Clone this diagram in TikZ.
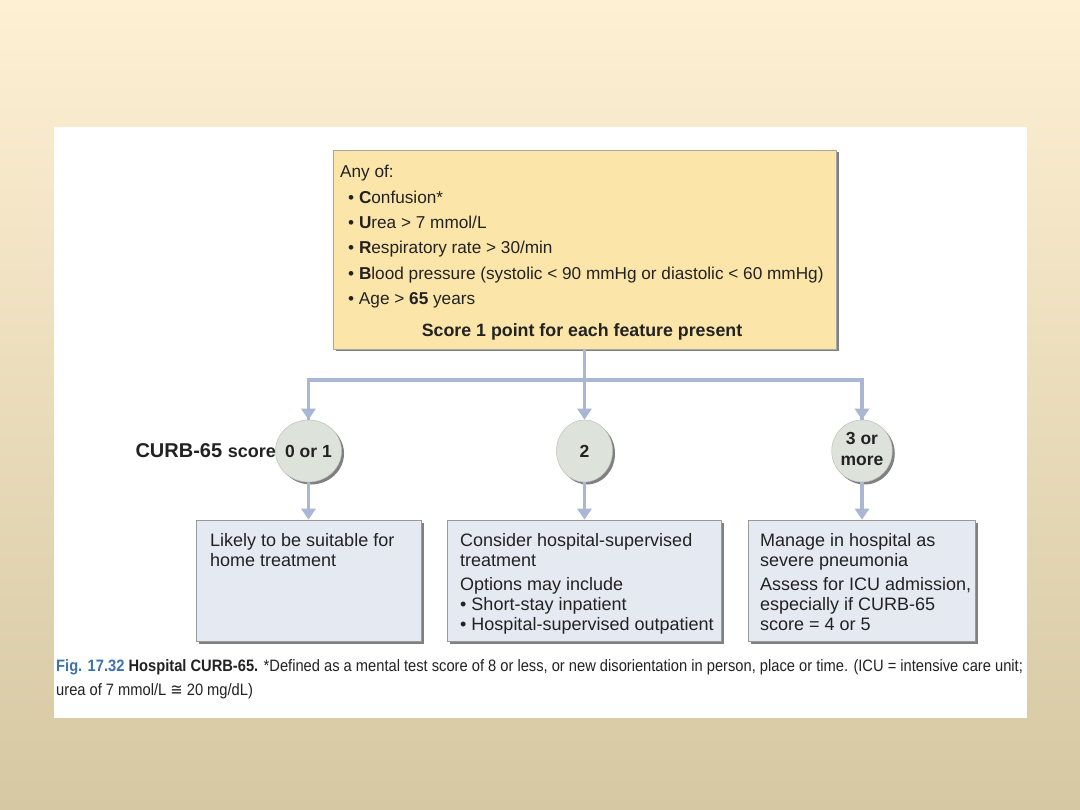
\documentclass[tikz,border=0pt]{standalone}
\usepackage{fontspec}
\setmainfont{Liberation Sans}
\newfontfamily\capfont[FakeStretch=0.89]{Liberation Sans}
\newfontfamily\symfont[FakeStretch=0.89]{DejaVu Sans}
\usetikzlibrary{arrows.meta,shapes.geometric,shadows}
\definecolor{bgtop}{HTML}{FEF0D3}
\definecolor{bgbot}{HTML}{D5C8A2}
\definecolor{topfill}{HTML}{FBE5A9}
\definecolor{boxfill}{HTML}{E5E9F2}
\definecolor{circfill}{HTML}{DDE3DA}
\definecolor{connc}{HTML}{AAB7D4}
\definecolor{figblue}{HTML}{3D72AE}
\definecolor{txt}{HTML}{222222}
\begin{document}
\begin{tikzpicture}[x=1pt,y=-1pt,
  shad/.style={drop shadow={shadow xshift=2.5pt,shadow yshift=-2.5pt,fill=black!50,opacity=1}},
  topbox/.style={draw=black!35,line width=0.6pt,fill=topfill,shad,minimum width=503pt,minimum height=199pt,inner sep=0pt},
  resbox/.style={draw=black!40,line width=0.6pt,fill=boxfill,shad,minimum height=121pt,inner sep=0pt},
  score/.style={ellipse,draw=black!25,line width=0.5pt,fill=circfill,shad,minimum width=56pt,minimum height=62pt,inner sep=0pt,align=center,font=\bfseries\fontsize{17.5}{21}\selectfont,text=txt},
  conn/.style={draw=connc,line width=3.6pt,-{Triangle[width=14pt,length=11pt]}},
  line/.style={draw=connc,line width=3.6pt},
  btext/.style={anchor=base west,align=left,inner sep=0pt,text=txt,font=\fontsize{18}{20}\selectfont}
]
\useasboundingbox (0,0) rectangle (1080,810);
\shade[top color=bgtop,bottom color=bgbot] (0,0) rectangle (1080,810);
\fill[white] (54,127) rectangle (1027,718);

% top box
\node[topbox] (top) at (584.5,249.5) {};
\node[anchor=base west,align=left,inner sep=0pt,text=txt,font=\fontsize{17.2}{25.3}\selectfont] (toptext) at (340,304.5)
 {Any of:\\
  \hspace*{8pt}• \textbf{C}onfusion*\\
  \hspace*{8pt}• \textbf{U}rea > 7 mmol/L\\
  \hspace*{8pt}• \textbf{R}espiratory rate > 30/min\\
  \hspace*{8pt}• \textbf{B}lood pressure (systolic < 90 mmHg or diastolic < 60 mmHg)\\
  \hspace*{8pt}• Age > \textbf{65} years};
\node[anchor=base,inner sep=0pt,text=txt,font=\bfseries\fontsize{17.8}{21}\selectfont] (scoreline) at (582,337) {Score 1 point for each feature present};

% circles
\node[score] (c1) at (308.5,451) {0 or 1};
\node[score] (c2) at (584.5,451) {2};
\node[score] (c3) at (862,451) {\raisebox{-7.5pt}{\begin{tabular}{@{}c@{}}3 or\\more\end{tabular}}};
\node[anchor=base east,inner sep=0pt,text=txt,font=\bfseries\fontsize{20}{22}\selectfont] (lbl) at (276,457) {CURB-65 {\fontsize{18}{20}\selectfont score}};

% result boxes
\node[resbox,minimum width=225pt] (b1) at (308.5,580.5) {};
\node[resbox,minimum width=274pt] (b2) at (584.5,580.5) {};
\node[resbox,minimum width=227pt] (b3) at (862,580.5) {};

\node[btext] (t1) at (210,566) {Likely to be suitable for\\home treatment};
\node[btext] (t2) at (460,630) {Consider hospital-supervised\\treatment\\[4pt]Options may include\\• Short-stay inpatient\\• Hospital-supervised outpatient};
\node[btext] (t3) at (760,630) {Manage in hospital as\\severe pneumonia\\[4pt]Assess for ICU admission,\\especially if CURB-65\\score = 4 or 5};

% connectors
\coordinate (j) at (584.5,380);
\draw[conn] (top.south) -- (c2.north);
\draw[line] (j) -| (c1.north);
\draw[conn] (j -| c1.north) -- (c1.north);
\draw[line] (j) -| (c3.north);
\draw[conn] (j -| c3.north) -- (c3.north);
\draw[conn] (c1.south) -- (b1.north);
\draw[conn] (c2.south) -- (b2.north);
\draw[conn] (c3.south) -- (b3.north);

% caption
\node[anchor=base west,align=left,inner sep=0pt,text=txt,font=\capfont\fontsize{16.5}{24}\selectfont] (cap) at (56,695)
 {{\bfseries\color{figblue}Fig. 17.32} \textbf{Hospital CURB-65.} *Defined as a mental test score of 8 or less, or new disorientation in person, place or time. (ICU = intensive care unit;\\urea of 7 mmol/L {\symfont ≅} 20 mg/dL)};
\end{tikzpicture}
\end{document}
